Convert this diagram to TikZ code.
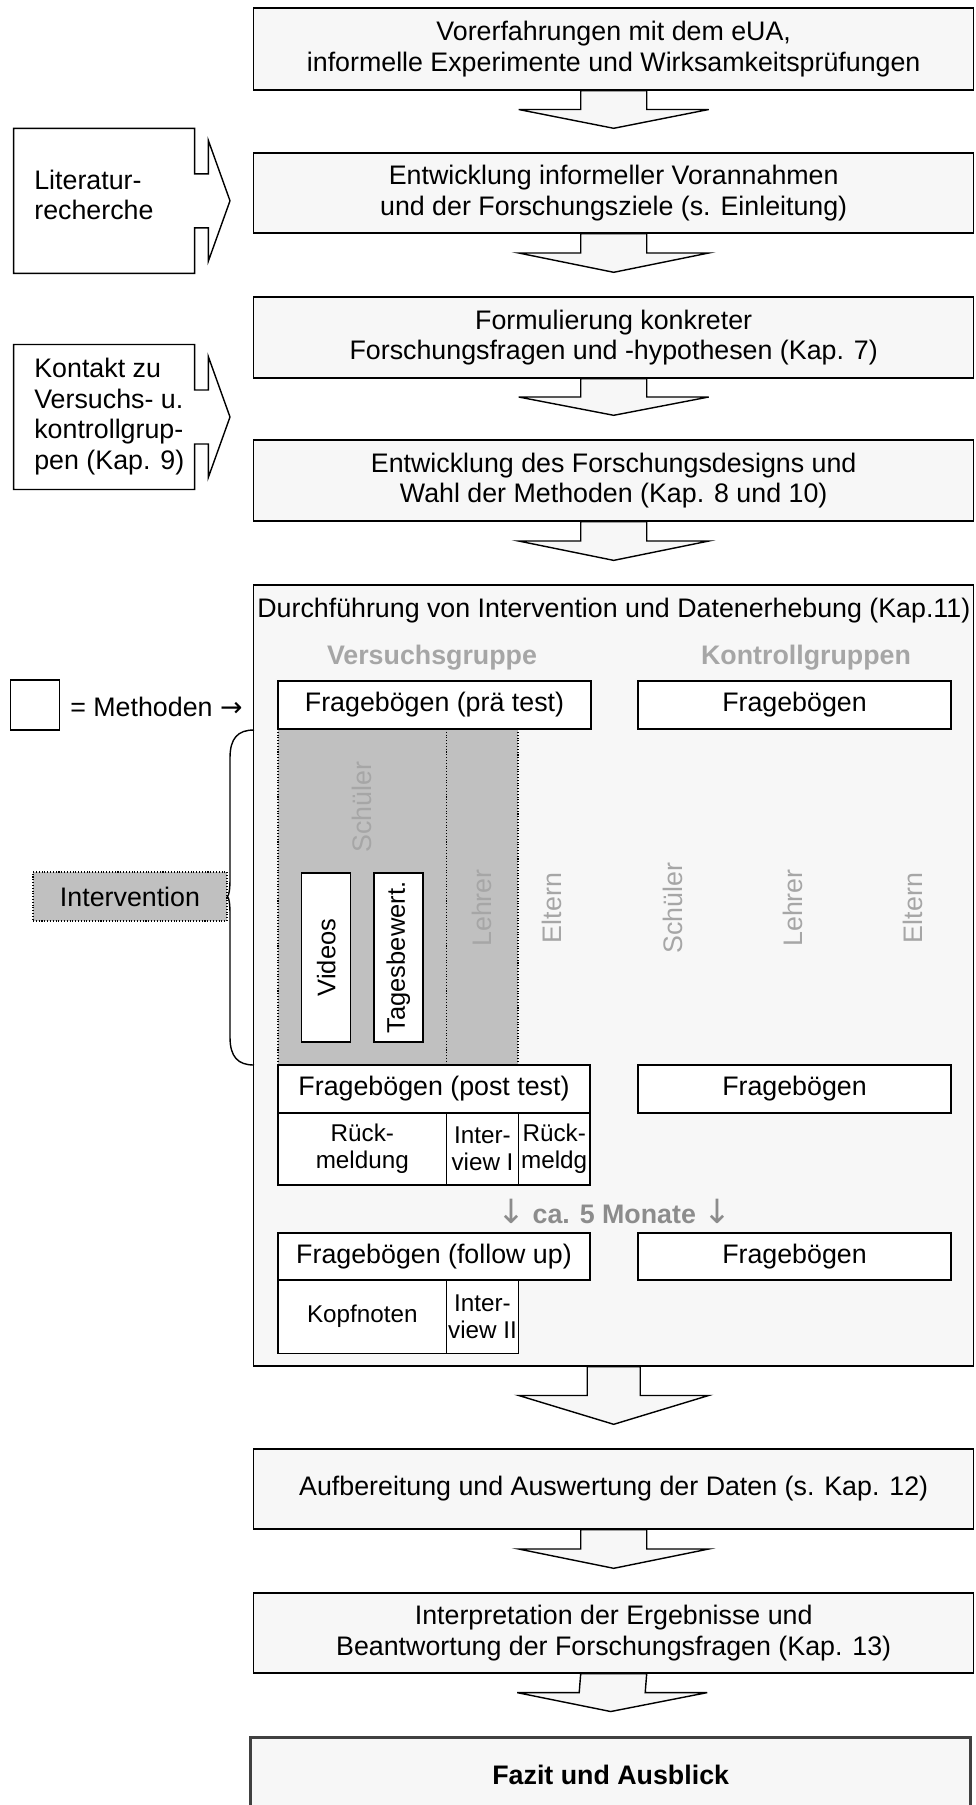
\documentclass[tikz,border=0pt]{standalone}
\usepackage{fontspec}
\setmainfont{Liberation Sans}
\newfontfamily\arrowfont{DejaVu Sans}
\usepackage{tikz}
\usetikzlibrary{calc}
\definecolor{flowfill}{HTML}{F7F7F7}
\definecolor{flowshade}{HTML}{C0C0C0}
\definecolor{flowgray}{HTML}{A6A6A6}
\definecolor{flowmonth}{HTML}{8C8C8C}
\definecolor{flowframe}{HTML}{404040}
\tikzset{
  every node/.style={font=\fontsize{15.25}{17.4}\selectfont},
  stepbox/.style={draw=black,line width=0.8pt,fill=flowfill,minimum width=14.4cm,align=center,inner sep=0pt},
  methbox/.style={draw=black,line width=0.8pt,fill=white,align=center,inner sep=0pt},
  cellbox/.style={methbox,minimum height=1.44cm,font=\fontsize{13.8}{15.2}\selectfont},
  grouplabel/.style={text=flowgray,rotate=90,inner sep=0pt},
  blockarrow/.style={draw=black,line width=0.8pt,fill=flowfill,line join=miter},
  sideshape/.style={draw=black,line width=0.8pt,fill=white,line join=miter}
}
% block arrow between two boxes: source, target, half stem width (px)
\newcommand{\flowarrow}[3]{%
  \coordinate (arrS) at (#1.south);
  \coordinate (arrT) at ($(#2.north)+(0,-24)$);
  \coordinate (arrM) at ($(arrS)!.5!(arrT)$);
  \draw[blockarrow] ($(arrS)+(-#3,0)$) -- ($(arrM)+(-#3,0)$) -- ($(arrM)+(-95,0)$) -- (arrT)
    -- ($(arrM)+(95,0)$) -- ($(arrM)+(#3,0)$) -- ($(arrS)+(#3,0)$) -- cycle;}
% box on the left with arrow to the right, centred at y
\newcommand{\sidecallout}[1]{%
  \draw[sideshape] (13.7,#1-72.5) -- (194.7,#1-72.5) -- (194.7,#1-27) -- (208.3,#1-27) -- (208.3,#1-60.5)
    -- (230,#1) -- (208.3,#1+60.5) -- (208.3,#1+27) -- (194.7,#1+27) -- (194.7,#1+72.5) -- (13.7,#1+72.5) -- cycle;}
\newcommand{\monthdown}{{\arrowfont\mdseries\fontsize{19}{19}\selectfont ↓}}

\begin{document}
\begin{tikzpicture}[x=0.02cm,y=-0.02cm]
  \useasboundingbox (0,0) rectangle (975,1805);

  % main steps
  \node[stepbox,minimum height=1.64cm] (b1) at (613.7,49) {Vorerfahrungen mit dem eUA,\\informelle Experimente und Wirksamkeitsprüfungen};
  \node[stepbox,minimum height=1.6cm] (b2) at (613.7,193) {Entwicklung informeller Vorannahmen\\und der Forschungsziele (s. Einleitung)};
  \node[stepbox,minimum height=1.62cm] (b3) at (613.7,337.5) {Formulierung konkreter\\Forschungsfragen und -hypothesen (Kap. 7)};
  \node[stepbox,minimum height=1.62cm] (b4) at (613.7,480.5) {Entwicklung des Forschungsdesigns und\\Wahl der Methoden (Kap. 8 und 10)};
  \node[stepbox,minimum height=15.62cm] (dur) at (613.7,975.5) {};
  \node[anchor=west,inner sep=0pt] (durtitle) at (257,611) {Durchführung von Intervention und Datenerhebung (Kap.11)};

  % intervention area
  \draw[densely dotted,line width=0.6pt,fill=flowshade] (278,729) rectangle (518,1065);
  \draw[densely dotted,line width=0.6pt] (446.7,729) -- (446.7,1065);

  \node[font=\fontsize{15.25}{17.4}\selectfont\bfseries,text=flowgray] (vgroup) at (432,658) {Versuchsgruppe};
  \node[font=\fontsize{15.25}{17.4}\selectfont\bfseries,text=flowgray] (kgroup) at (806,658) {Kontrollgruppen};

  \node[methbox,minimum width=6.26cm,minimum height=0.96cm] (vfb1) at (434.5,705) {Fragebögen (prä test)};
  \node[methbox,minimum width=6.26cm,minimum height=0.96cm] (kfb1) at (794.5,705) {Fragebögen};
  \node[methbox,minimum width=6.24cm,minimum height=0.96cm] (vfb2) at (434,1089) {Fragebögen (post test)};
  \node[methbox,minimum width=6.26cm,minimum height=0.96cm] (kfb2) at (794.5,1089) {Fragebögen};
  \node[methbox,minimum width=6.24cm,minimum height=0.94cm] (vfb3) at (434,1256.5) {Fragebögen (follow up)};
  \node[methbox,minimum width=6.26cm,minimum height=0.94cm] (kfb3) at (794.5,1256.5) {Fragebögen};

  \node[cellbox,minimum width=3.374cm] (rm1) at (362.3,1149) {Rück-\\meldung};
  \node[cellbox,minimum width=1.432cm] (iv1) at (482.5,1149) {Inter-\\view I};
  \node[cellbox,minimum width=1.434cm] (rm2) at (554.2,1149) {Rück-\\meldg};
  \node[cellbox,minimum width=3.374cm,minimum height=1.466cm] (kopf) at (362.3,1316.7) {Kopfnoten};
  \node[cellbox,minimum width=1.432cm,minimum height=1.466cm] (iv2) at (482.5,1316.7) {Inter-\\view II};

  \node[font=\fontsize{15.25}{17.4}\selectfont\bfseries,text=flowmonth] (gap) at (614.3,1211.7) {\monthdown{} ca. 5 Monate \monthdown};

  \node[methbox,rotate=90,minimum width=3.38cm,minimum height=0.98cm,font=\fontsize{14.5}{17}\selectfont] (vid) at (326.2,957.5) {Videos};
  \node[methbox,rotate=90,minimum width=3.38cm,minimum height=0.98cm,font=\fontsize{14.5}{17}\selectfont] (tag) at (398.3,957.5) {Tagesbewert.};

  \node[grouplabel] (vschueler) at (361.7,807) {Schüler};
  \node[grouplabel] (vlehrer) at (481.7,908) {Lehrer};
  \node[grouplabel] (veltern) at (551.7,908) {Eltern};
  \node[grouplabel] (kschueler) at (673,908) {Schüler};
  \node[grouplabel] (klehrer) at (793,908) {Lehrer};
  \node[grouplabel] (keltern) at (913,908) {Eltern};

  % last steps
  \node[stepbox,minimum height=1.6cm] (auf) at (613.7,1489) {Aufbereitung und Auswertung der Daten (s. Kap. 12)};
  \node[stepbox,minimum height=1.6cm] (intp) at (613.7,1633) {Interpretation der Ergebnisse und\\Beantwortung der Forschungsfragen (Kap. 13)};
  \node[stepbox,draw=flowframe,line width=1.7pt,font=\fontsize{15.25}{17.4}\selectfont\bfseries,minimum height=1.5cm] (fazit) at (610.7,1774.5) {Fazit und Ausblick};

  % arrows
  \flowarrow{b1}{b2}{33}
  \flowarrow{b2}{b3}{33}
  \flowarrow{b3}{b4}{33}
  \flowarrow{b4}{dur}{33}
  \flowarrow{dur}{auf}{26.5}
  \flowarrow{auf}{intp}{33}
  \flowarrow{intp}{fazit}{33}

  % left side
  \sidecallout{200.8}
  \node[anchor=west,align=left,inner sep=0pt] (lit) at (34,195) {Literatur-\\recherche};
  \sidecallout{417}
  \node[anchor=west,align=left,inner sep=0pt] (kontakt) at (34,416.5) {Kontakt zu\\Versuchs- u.\\kontrollgrup-\\pen (Kap. 9)};

  \node[methbox,minimum width=0.97cm,minimum height=1cm] (legend) at (35,705) {};
  \node[anchor=west,inner sep=0pt] (legtext) at (70,706.7) {= Methoden {\arrowfont →}};

  \node[densely dotted,draw=black,line width=0.6pt,fill=flowshade,minimum width=3.88cm,minimum height=0.98cm,inner sep=0pt] (intv) at (130,896.5) {Intervention};
  \draw[line width=0.8pt] (254,730) .. controls (238,730) and (230,738) .. (230,758) -- (230,878)
    .. controls (230,890) and (229,895) .. (intv.east) .. controls (229,898) and (230,903) .. (230,915)
    -- (230,1037) .. controls (230,1057) and (238,1065) .. (254,1065);
\end{tikzpicture}
\end{document}
